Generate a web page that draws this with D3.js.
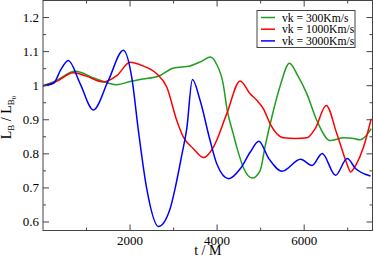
<!DOCTYPE html>
<html>
<head>
<meta charset="utf-8">
<script src="https://cdn.jsdelivr.net/npm/d3@7"></script>
<style>
  body { margin: 0; background: #fff; }
  svg { display: block; font-family: "Liberation Serif", "DejaVu Serif", serif; }
</style>
</head>
<body>
<div id="chart"></div>
<script>
var svgWidth = 374;
var svgHeight = 258;

var margin = { top: 0.5, right: 1.5, bottom: 27.5, left: 43 };
var width = svgWidth - margin.left - margin.right;
var height = svgHeight - margin.top - margin.bottom;

// series: time (t / M) and L_B / L_B0
var tGreen = [0, 300, 736, 1200, 1700, 2000, 2230, 2690, 3000, 3380, 3650, 3846, 3980, 4138, 4230, 4368, 4460, 4613, 4805, 4989, 5100, 5257, 5450, 5662, 5850, 6062, 6291, 6598, 6903, 7100, 7287, 7400, 7540];
var vGreen = [1.0, 1.015, 1.042, 1.021, 1.003, 1.012, 1.018, 1.030, 1.052, 1.058, 1.072, 1.084, 1.065, 1.006, 0.93, 0.86, 0.816, 0.757, 0.729, 0.751, 0.82, 0.908, 1.0, 1.066, 1.03, 0.976, 0.898, 0.839, 0.847, 0.846, 0.841, 0.85, 0.874];

var tRed = [0, 300, 697, 1000, 1386, 1700, 2000, 2300, 2613, 2843, 3073, 3226, 3456, 3690, 3916, 4222, 4529, 4759, 4912, 5065, 5218, 5372, 5525, 5800, 6062, 6253, 6506, 6751, 6981, 7065, 7200, 7364, 7540];
var vRed = [1.0, 1.012, 1.038, 1.028, 1.011, 1.03, 1.069, 1.058, 1.035, 0.996, 0.898, 0.849, 0.815, 0.789, 0.82, 0.918, 1.014, 0.976, 0.957, 0.932, 0.888, 0.859, 0.847, 0.845, 0.847, 0.874, 0.942, 0.859, 0.771, 0.747, 0.77, 0.82, 0.903];

var tBlue = [0, 250, 400, 582, 850, 1157, 1500, 1847, 2038, 2191, 2383, 2651, 2920, 3034, 3188, 3303, 3433, 3609, 3839, 3992, 4268, 4536, 4766, 4958, 5188, 5494, 5916, 6184, 6414, 6720, 6989, 7180, 7525];
var vBlue = [1.0, 1.008, 1.045, 1.074, 1.007, 0.929, 1.015, 1.104, 1.025, 0.869, 0.698, 0.587, 0.639, 0.698, 0.796, 0.874, 1.018, 0.957, 0.839, 0.771, 0.727, 0.757, 0.806, 0.837, 0.786, 0.749, 0.784, 0.766, 0.801, 0.737, 0.786, 0.757, 0.735];

var seriesNames = ["vk = 300Km/s", "vk = 1000Km/s", "vk = 3000Km/s"];
var seriesColors = ["#1f9e1f", "#ff0000", "#0000ff"];

var xMajor = [2000, 4000, 6000];
var xMinor = [1000, 3000, 5000, 7000];
var yMajor = [0.6, 0.7, 0.8, 0.9, 1.0, 1.1, 1.2];
var yMinor = [0.65, 0.75, 0.85, 0.95, 1.05, 1.15];

var series = [
  { name: seriesNames[0], color: seriesColors[0], t: tGreen, v: vGreen },
  { name: seriesNames[1], color: seriesColors[1], t: tRed, v: vRed },
  { name: seriesNames[2], color: seriesColors[2], t: tBlue, v: vBlue }
];

var svg = d3.select("#chart")
  .append("svg")
  .attr("width", svgWidth)
  .attr("height", svgHeight);

var chartGroup = svg.append("g")
  .attr("transform", `translate(${margin.left}, ${margin.top})`);

var xScale = d3.scaleLinear().domain([0, 7570]).range([0, width]);
var yScale = d3.scaleLinear().domain([0.575, 1.25]).range([height, 0]);

chartGroup.append("clipPath").attr("id", "clip")
  .append("rect").attr("width", width).attr("height", height);

// curves
var line = d3.line()
  .x(d => xScale(d[0]))
  .y(d => yScale(d[1]))
  .curve(d3.curveMonotoneX);

series.forEach(function(s) {
  chartGroup.append("path")
    .datum(s.t.map((t, i) => [t, s.v[i]]))
    .attr("clip-path", "url(#clip)")
    .attr("fill", "none")
    .attr("stroke", s.color)
    .attr("stroke-width", 1.5)
    .attr("d", line);
});

// frame
chartGroup.append("rect")
  .attr("width", width).attr("height", height)
  .attr("fill", "none").attr("stroke", "#444").attr("stroke-width", 1);

// inward ticks on all four sides
var tickColor = "#444";
function xTicks(vals, len) {
  vals.forEach(function(v) {
    var x = xScale(v);
    chartGroup.append("line").attr("x1", x).attr("x2", x).attr("y1", height).attr("y2", height - len).attr("stroke", tickColor);
    chartGroup.append("line").attr("x1", x).attr("x2", x).attr("y1", 0).attr("y2", len).attr("stroke", tickColor);
  });
}
function yTicks(vals, len) {
  vals.forEach(function(v) {
    var y = yScale(v);
    chartGroup.append("line").attr("x1", 0).attr("x2", len).attr("y1", y).attr("y2", y).attr("stroke", tickColor);
    chartGroup.append("line").attr("x1", width).attr("x2", width - len).attr("y1", y).attr("y2", y).attr("stroke", tickColor);
  });
}
xTicks(xMajor, 6);
xTicks(xMinor, 3);
yTicks(yMajor, 6);
yTicks(yMinor, 3);

// tick labels
chartGroup.selectAll(".xlab").data(xMajor).enter().append("text")
  .attr("x", d => xScale(d))
  .attr("y", height + 14)
  .attr("text-anchor", "middle")
  .attr("font-size", "13px")
  .text(d => d);

chartGroup.selectAll(".ylab").data(yMajor).enter().append("text")
  .attr("x", -4)
  .attr("y", d => yScale(d) + 4.5)
  .attr("text-anchor", "end")
  .attr("font-size", "13px")
  .text(d => d3.format("")(+d.toFixed(1)));

// axis titles
chartGroup.append("text")
  .attr("x", width / 2)
  .attr("y", height + 24)
  .attr("text-anchor", "middle")
  .attr("font-size", "14px")
  .text("t / M");

var yTitle = chartGroup.append("text")
  .attr("transform", `translate(-32, ${height / 2 + 2})rotate(-90)`)
  .attr("text-anchor", "middle")
  .attr("font-size", "14px");
yTitle.append("tspan").text("L");
yTitle.append("tspan").attr("font-size", "9px").attr("dy", 3).text("B");
yTitle.append("tspan").attr("dy", -3).text(" / L");
yTitle.append("tspan").attr("font-size", "9px").attr("dy", 3).text("B");
yTitle.append("tspan").attr("font-size", "7px").attr("dy", 2).text("0");

// legend
var legend = svg.append("g").attr("transform", "translate(257, 10.5)");
legend.append("rect")
  .attr("width", 98).attr("height", 37)
  .attr("fill", "#fff").attr("stroke", "#444").attr("stroke-width", 1);
series.forEach(function(s, i) {
  var y = 7 + i * 11.7;
  legend.append("line")
    .attr("x1", 4).attr("x2", 18).attr("y1", y).attr("y2", y)
    .attr("stroke", s.color).attr("stroke-width", 1.5);
  legend.append("text")
    .attr("x", 25).attr("y", y + 4)
    .attr("font-size", "11.6px")
    .text(s.name);
});
</script>
</body>
</html>
